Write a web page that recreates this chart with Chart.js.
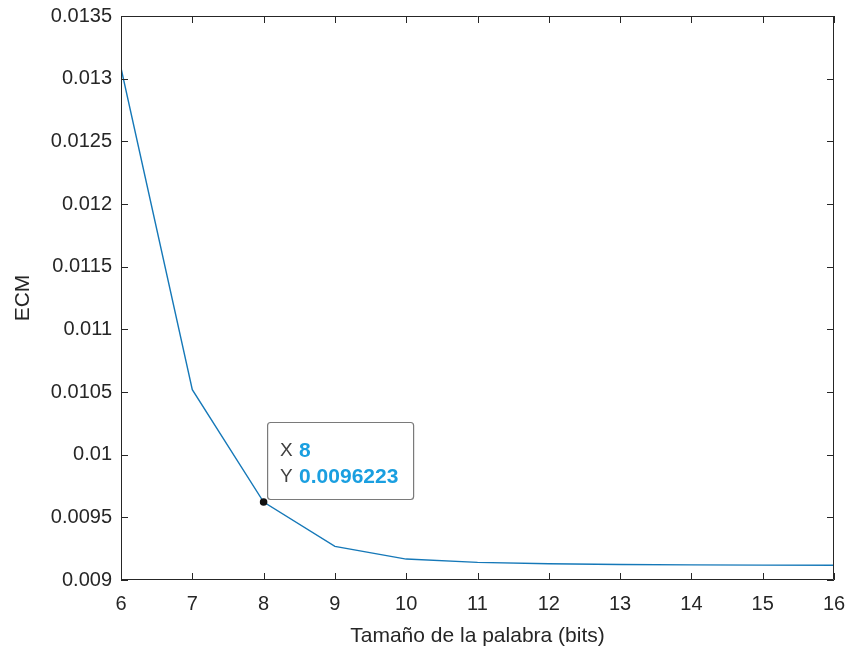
<!DOCTYPE html>
<html>
<head>
<meta charset="utf-8">
<script src="https://cdn.jsdelivr.net/npm/chart.js@4/dist/chart.umd.min.js"></script>
<style>
html,body{margin:0;padding:0;background:#fff;}
#wrap{width:851px;height:652px;position:relative;}
</style>
</head>
<body>
<div id="wrap"><canvas id="c" width="851" height="652"></canvas></div>
<script>
const bits = [6, 7, 8, 9, 10, 11, 12, 13, 14, 15, 16];
const ecm = [0.013085, 0.010518, 0.0096223, 0.009268, 0.009167, 0.009141, 0.009130, 0.009124, 0.009121, 0.009119, 0.009118];
const xTicks = [6, 7, 8, 9, 10, 11, 12, 13, 14, 15, 16];
const yTicks = [0.009, 0.0095, 0.01, 0.0105, 0.011, 0.0115, 0.012, 0.0125, 0.013, 0.0135];
const yTickLabels = ['0.009', '0.0095', '0.01', '0.0105', '0.011', '0.0115', '0.012', '0.0125', '0.013', '0.0135'];
const xTitle = 'Tamaño de la palabra (bits)';
const yTitle = 'ECM';
const tipIndex = 2;
const tipX = '8';
const tipY = '0.0096223';

const FONT = 'Liberation Sans, Arial, sans-serif';
const AX = '#262626';

const boxPlugin = {
  id: 'boxTicks',
  afterDraw(chart) {
    const {ctx, chartArea: a, scales: {x, y}} = chart;
    ctx.save();
    ctx.strokeStyle = AX;
    ctx.lineWidth = 1;
    ctx.beginPath();
    ctx.rect(a.left + 0.5, a.top + 0.5, a.right - a.left - 1, a.bottom - a.top - 1);
    ctx.stroke();
    const L = 7;
    ctx.beginPath();
    xTicks.forEach(v => {
      const px = Math.round(x.getPixelForValue(v)) + 0.5;
      ctx.moveTo(px, a.bottom); ctx.lineTo(px, a.bottom - L);
      ctx.moveTo(px, a.top); ctx.lineTo(px, a.top + L);
    });
    yTicks.forEach(v => {
      const py = Math.round(y.getPixelForValue(v)) + 0.5;
      ctx.moveTo(a.left, py); ctx.lineTo(a.left + L, py);
      ctx.moveTo(a.right, py); ctx.lineTo(a.right - L, py);
    });
    ctx.stroke();

    // datatip
    const px = x.getPixelForValue(bits[tipIndex]);
    const py = y.getPixelForValue(ecm[tipIndex]);
    ctx.fillStyle = '#111';
    ctx.beginPath();
    ctx.arc(px, py, 3.8, 0, Math.PI * 2);
    ctx.fill();
    const bx = px + 3.5, by = py - 80, bw = 146, bh = 77;
    ctx.fillStyle = 'rgba(255,255,255,0.95)';
    ctx.strokeStyle = '#7a7a7a';
    ctx.lineWidth = 1.2;
    ctx.beginPath();
    if (ctx.roundRect) ctx.roundRect(bx + 0.5, by + 0.5, bw, bh, 3); else ctx.rect(bx + 0.5, by + 0.5, bw, bh);
    ctx.fill();
    ctx.stroke();
    ctx.textBaseline = 'middle';
    ctx.textAlign = 'left';
    ctx.font = '19px ' + FONT;
    ctx.fillStyle = '#404040';
    ctx.fillText('X', bx + 13, by + 29);
    ctx.fillText('Y', bx + 13, by + 55);
    ctx.font = 'bold 21px ' + FONT;
    ctx.fillStyle = '#1a9fe0';
    ctx.fillText(tipX, bx + 32, by + 29);
    ctx.fillText(tipY, bx + 32, by + 55);
    ctx.restore();
  }
};

new Chart(document.getElementById('c'), {
  type: 'line',
  data: {
    datasets: [{
      data: bits.map((b, i) => ({x: b, y: ecm[i]})),
      borderColor: '#1578b8',
      borderWidth: 1.4,
      pointRadius: 0,
      tension: 0,
      fill: false
    }]
  },
  options: {
    responsive: false,
    animation: false,
    layout: {padding: {left: 0, top: 16, right: 17, bottom: 0}},
    plugins: {legend: {display: false}, tooltip: {enabled: false}},
    scales: {
      x: {
        type: 'linear', min: 6, max: 16,
        afterBuildTicks: s => { s.ticks = xTicks.map(v => ({value: v})); },
        afterFit: s => { s.height = 72; s.paddingLeft = 0; s.paddingRight = 0; },
        grid: {display: false, drawTicks: false},
        border: {display: false},
        ticks: {color: AX, font: {family: FONT, size: 20}, padding: 12, maxRotation: 0, autoSkip: false,
          callback: v => String(v)},
        title: {display: true, text: xTitle, color: AX, font: {family: FONT, size: 21}, padding: {top: 4, bottom: 3}}
      },
      y: {
        type: 'linear', min: 0.009, max: 0.0135,
        afterBuildTicks: s => { s.ticks = yTicks.map(v => ({value: v})); },
        afterFit: s => { s.width = 121; s.paddingTop = 0; s.paddingBottom = 0; },
        grid: {display: false, drawTicks: false},
        border: {display: false},
        ticks: {color: AX, font: {family: FONT, size: 20}, padding: 9, autoSkip: false,
          callback: (v, i) => yTickLabels[i]},
        title: {display: true, text: yTitle, color: AX, font: {family: FONT, size: 21}, padding: {top: 11, bottom: 0}}
      }
    }
  },
  plugins: [boxPlugin]
});
</script>
</body>
</html>
